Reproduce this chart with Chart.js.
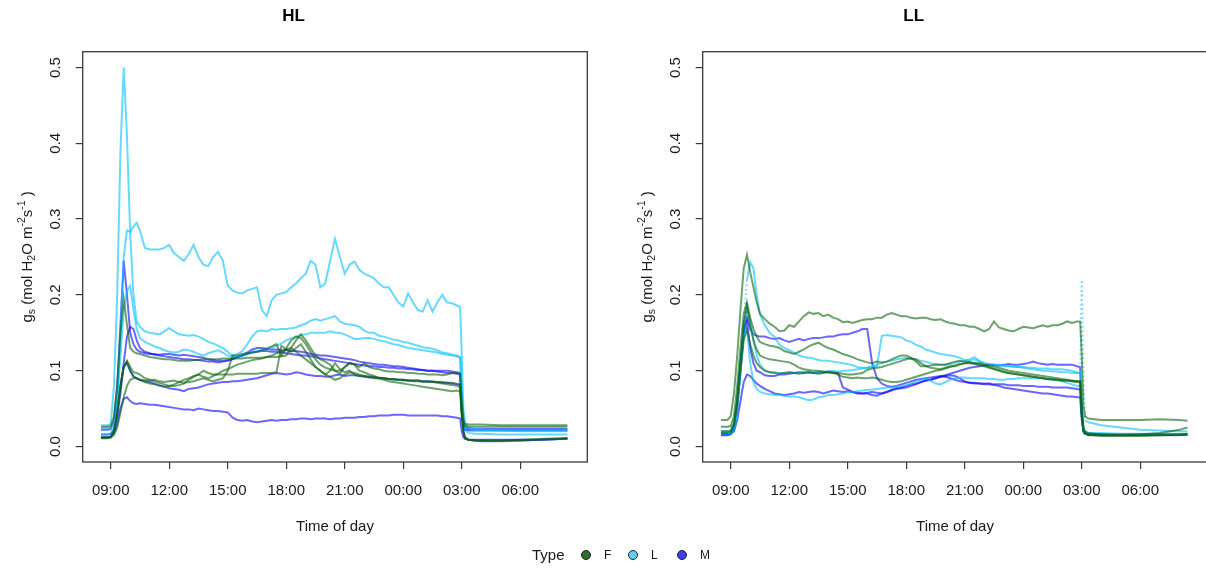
<!DOCTYPE html>
<html><head><meta charset="utf-8">
<script src="https://cdn.jsdelivr.net/npm/chart.js@4.4.1/dist/chart.umd.min.js"></script>
<style>
html,body{margin:0;padding:0;background:#fff;overflow:hidden;width:1206px;height:570px;position:relative;font-family:"Liberation Sans",Arial,sans-serif;}
canvas{position:absolute;top:0;}
#c1{left:0;}
#c2{left:620px;}
.lg{position:absolute;color:#1a1a1a;white-space:nowrap;line-height:1;}
.dot{position:absolute;width:8px;height:8px;border-radius:50%;border:1px solid #222;}
</style></head><body>
<canvas id="c1" width="600" height="570"></canvas>
<canvas id="c2" width="600" height="570"></canvas>
<div class="lg" style="left:532px;top:547px;font-size:15px;">Type</div>
<div class="dot" style="left:581px;top:550px;background:#2e6e2e;"></div>
<div class="lg" style="left:604px;top:549px;font-size:12px;">F</div>
<div class="dot" style="left:628px;top:550px;background:#5fd0f2;"></div>
<div class="lg" style="left:651px;top:549px;font-size:12px;">L</div>
<div class="dot" style="left:677px;top:550px;background:#3c3cf5;"></div>
<div class="lg" style="left:700px;top:549px;font-size:12px;">M</div>
<script>
// ---------- categories / ticks ----------
const times = [
 "08:30","08:50","09:00","09:10","09:20","09:30","09:40","09:50","10:00","10:10","10:20","10:30","10:45","11:00",
 "11:15","11:30","11:45",
 "12:00","12:15","12:30","12:45","13:00","13:15","13:30","13:45","14:00","14:15","14:30","14:45",
 "15:00","15:15","15:30","15:45","16:00","16:15","16:30","16:45","17:00","17:15","17:30","17:45",
 "18:00","18:15","18:30","18:45","19:00","19:15","19:30","19:45","20:00","20:15","20:30","20:45",
 "21:00","21:15","21:30","21:45","22:00","22:15","22:30","22:45","23:00","23:15","23:30","23:45",
 "00:00","00:15","00:30","00:45","01:00","01:15","01:30","01:45","02:00","02:15","02:30","02:45",
 "02:55","03:00","03:05","03:10","03:20","03:40","04:00","05:00","06:00","07:00","08:00","08:25"
];
const xTickValues = [9,12,15,18,21,24,27,30];
const xTickLabels = ["09:00","12:00","15:00","18:00","21:00","00:00","03:00","06:00"];
const yTickValues = [0,0.1,0.2,0.3,0.4,0.5];
const yTickLabels = ["0.0","0.1","0.2","0.3","0.4","0.5"];
const panelTitles = ["HL","LL"];
const legendTypes = ["F","L","M"];

// ---------- HL series ----------
const hlF1 = [0.026,0.026,0.027,0.04,0.08,0.15,0.195,0.16,0.13,0.125,0.123,0.122,0.12,0.118,
 0.117,0.116,0.115,
 0.115,0.114,0.113,0.113, 0.113,0.114,0.114,0.115, 0.115,0.115,0.115,0.116,
 0.116,0.116,0.116,0.116, 0.117,0.117,0.117,0.117, 0.118,0.118,0.118,0.119,
 0.12,0.13,0.14,0.148, 0.14,0.13,0.12,0.115, 0.112,0.108,0.1,0.096,
 0.105,0.11,0.108,0.105, 0.11,0.105,0.103,0.102, 0.1,0.099,0.099,0.098,
 0.098,0.097,0.097,0.096, 0.096,0.095,0.095,0.095, 0.094,0.095,0.097,0.097,
 0.096,0.06,0.035,0.03,0.029,0.029,0.029,0.028,0.028,0.028,0.028,0.028];
const hlF2 = [0.012,0.012,0.013,0.02,0.045,0.08,0.105,0.113,0.105,0.098,0.097,0.095,0.09,0.088,
 0.086,0.084,0.082,
 0.08,0.08,0.081,0.083, 0.088,0.092,0.095,0.1, 0.097,0.095,0.095,0.095,
 0.095,0.095,0.096,0.096, 0.096,0.096,0.096,0.097, 0.097,0.097,0.098,0.133,
 0.128,0.125,0.13,0.135, 0.125,0.115,0.105,0.1, 0.095,0.1,0.11,0.102,
 0.098,0.1,0.095,0.093, 0.093,0.092,0.09,0.09, 0.09,0.089,0.088,0.088,
 0.087,0.087,0.086,0.086, 0.085,0.085,0.085,0.084, 0.083,0.082,0.081,0.08,
 0.078,0.045,0.02,0.012,0.009,0.008,0.008,0.008,0.008,0.009,0.01,0.011];
const hlF3 = [0.012,0.012,0.012,0.015,0.025,0.045,0.065,0.08,0.088,0.09,0.09,0.088,0.087,0.087,
 0.088,0.086,0.085,
 0.086,0.087,0.085,0.084, 0.085,0.086,0.088,0.09, 0.088,0.086,0.088,0.09,
 0.1,0.12,0.12,0.122, 0.123,0.124,0.125,0.127, 0.129,0.132,0.135,0.12,
 0.13,0.14,0.145,0.143, 0.135,0.125,0.115,0.108, 0.104,0.102,0.1,0.1,
 0.105,0.11,0.108,0.1, 0.098,0.095,0.093,0.09, 0.088,0.086,0.085,0.084,
 0.083,0.082,0.081,0.08, 0.079,0.078,0.077,0.076, 0.075,0.074,0.073,0.074,
 0.072,0.04,0.03,0.027,0.026,0.026,0.026,0.026,0.026,0.026,0.026,0.026];
const hlF4 = [0.011,0.011,0.012,0.02,0.045,0.08,0.105,0.112,0.1,0.093,0.09,0.088,0.085,0.083,
 0.082,0.08,0.079,
 0.08,0.082,0.085,0.088, 0.09,0.093,0.095,0.092, 0.09,0.093,0.096,0.1,
 0.102,0.105,0.108,0.11, 0.112,0.114,0.115,0.116, 0.118,0.12,0.123,0.125,
 0.128,0.13,0.125,0.12, 0.115,0.11,0.105,0.1, 0.095,0.092,0.088,0.09,
 0.095,0.098,0.097,0.095, 0.093,0.092,0.092,0.091, 0.09,0.089,0.089,0.088,
 0.088,0.087,0.087,0.087, 0.086,0.086,0.086,0.085, 0.085,0.084,0.084,0.083,
 0.082,0.045,0.02,0.011,0.009,0.008,0.008,0.008,0.009,0.01,0.011,0.011];
const hlL1 = [0.028,0.028,0.03,0.08,0.2,0.39,0.5,0.41,0.28,0.2,0.165,0.158,0.152,0.15,
 0.149,0.148,0.152,
 0.156,0.152,0.148,0.147, 0.146,0.147,0.145,0.142, 0.138,0.136,0.133,0.13,
 0.125,0.12,0.122,0.126, 0.135,0.145,0.152,0.153, 0.152,0.155,0.154,0.155,
 0.155,0.156,0.157,0.16, 0.162,0.166,0.168,0.166, 0.168,0.17,0.172,0.165,
 0.162,0.161,0.16,0.158, 0.153,0.15,0.15,0.146, 0.145,0.143,0.141,0.14,
 0.138,0.137,0.135,0.133, 0.131,0.13,0.129,0.127, 0.124,0.123,0.121,0.119,
 0.117,0.07,0.04,0.028,0.024,0.022,0.022,0.021,0.02,0.02,0.02,0.02];
const hlL2 = [0.024,0.024,0.025,0.03,0.06,0.15,0.25,0.285,0.283,0.29,0.295,0.285,0.262,0.26,
 0.26,0.26,0.262,
 0.266,0.255,0.25,0.245, 0.254,0.266,0.25,0.24, 0.238,0.25,0.257,0.245,
 0.212,0.206,0.203,0.202, 0.206,0.208,0.21,0.18, 0.172,0.193,0.2,0.202,
 0.204,0.21,0.215,0.222, 0.228,0.245,0.24,0.21, 0.215,0.245,0.274,0.25,
 0.228,0.24,0.244,0.233, 0.228,0.225,0.222,0.215, 0.21,0.21,0.2,0.19,
 0.185,0.202,0.19,0.18, 0.178,0.193,0.178,0.19, 0.2,0.19,0.189,0.186,
 0.184,0.12,0.05,0.03,0.025,0.023,0.022,0.022,0.022,0.022,0.022,0.022];
const hlL3 = [0.016,0.016,0.017,0.025,0.06,0.12,0.18,0.205,0.212,0.18,0.155,0.143,0.138,0.135,
 0.132,0.13,0.127,
 0.125,0.124,0.125,0.128, 0.127,0.125,0.122,0.12, 0.123,0.125,0.127,0.124,
 0.12,0.119,0.118,0.12, 0.124,0.125,0.126,0.127, 0.128,0.13,0.133,0.136,
 0.14,0.143,0.145,0.147, 0.148,0.15,0.15,0.15, 0.15,0.152,0.15,0.15,
 0.148,0.145,0.142,0.142, 0.143,0.143,0.142,0.14, 0.139,0.137,0.135,0.134,
 0.132,0.13,0.129,0.128, 0.127,0.126,0.125,0.124, 0.122,0.121,0.12,0.12,
 0.118,0.07,0.035,0.022,0.018,0.017,0.017,0.016,0.016,0.016,0.016,0.016];
const hlM1 = [0.022,0.022,0.023,0.035,0.08,0.16,0.245,0.2,0.15,0.135,0.128,0.125,0.123,0.122,
 0.122,0.121,0.122,
 0.122,0.121,0.12,0.121, 0.12,0.119,0.118,0.117, 0.115,0.114,0.113,0.113,
 0.114,0.116,0.118,0.12, 0.124,0.128,0.13,0.13, 0.129,0.128,0.128,0.127,
 0.127,0.126,0.126,0.125, 0.124,0.122,0.121,0.12, 0.12,0.119,0.118,0.117,
 0.116,0.115,0.114,0.112, 0.111,0.11,0.109,0.108, 0.108,0.107,0.106,0.106,
 0.105,0.104,0.103,0.102, 0.101,0.1,0.1,0.099, 0.098,0.097,0.097,0.096,
 0.095,0.05,0.028,0.024,0.023,0.023,0.023,0.023,0.023,0.023,0.023,0.023];
const hlM2 = [0.016,0.016,0.017,0.022,0.04,0.07,0.11,0.145,0.158,0.155,0.14,0.13,0.125,0.123,
 0.121,0.12,0.119,
 0.118,0.117,0.116,0.115, 0.115,0.114,0.114,0.113, 0.112,0.112,0.111,0.112,
 0.113,0.115,0.118,0.12, 0.122,0.124,0.125,0.126, 0.126,0.125,0.125,0.124,
 0.123,0.122,0.121,0.12, 0.12,0.119,0.118,0.116, 0.115,0.114,0.113,0.112,
 0.111,0.11,0.109,0.108, 0.107,0.106,0.106,0.105, 0.105,0.104,0.104,0.103,
 0.103,0.102,0.102,0.101, 0.101,0.1,0.1,0.1, 0.1,0.1,0.099,0.098,
 0.097,0.05,0.02,0.012,0.009,0.008,0.007,0.007,0.008,0.009,0.01,0.011];
const hlM3 = [0.012,0.012,0.013,0.02,0.045,0.08,0.105,0.11,0.1,0.092,0.09,0.088,0.086,0.085,
 0.083,0.081,0.079,
 0.077,0.076,0.075,0.073, 0.076,0.077,0.078,0.08, 0.082,0.083,0.084,0.085,
 0.085,0.086,0.086,0.087, 0.088,0.089,0.09,0.092, 0.094,0.096,0.097,0.096,
 0.095,0.096,0.098,0.097, 0.095,0.094,0.093,0.093, 0.092,0.092,0.094,0.095,
 0.093,0.094,0.094,0.093, 0.092,0.091,0.091,0.09, 0.09,0.089,0.089,0.088,
 0.088,0.087,0.087,0.087, 0.086,0.086,0.085,0.085, 0.084,0.084,0.083,0.082,
 0.081,0.045,0.025,0.022,0.021,0.021,0.021,0.021,0.021,0.021,0.021,0.021];
const hlM4 = [0.012,0.012,0.013,0.018,0.03,0.05,0.063,0.065,0.06,0.057,0.056,0.057,0.056,0.055,
 0.055,0.054,0.053,
 0.052,0.051,0.05,0.049, 0.049,0.048,0.05,0.049, 0.048,0.047,0.047,0.046,
 0.045,0.038,0.035,0.034, 0.035,0.033,0.032,0.033, 0.034,0.035,0.034,0.035,
 0.035,0.036,0.036,0.037, 0.037,0.036,0.037,0.037, 0.037,0.036,0.037,0.037,
 0.038,0.038,0.038,0.039, 0.039,0.04,0.04,0.041, 0.041,0.041,0.042,0.042,
 0.042,0.041,0.041,0.041, 0.041,0.041,0.041,0.041, 0.04,0.04,0.039,0.038,
 0.037,0.02,0.012,0.01,0.009,0.009,0.009,0.009,0.009,0.009,0.01,0.01];

// ---------- LL series ----------
const llF1 = [0.035,0.035,0.04,0.07,0.12,0.18,0.235,0.253,0.23,0.21,0.19,0.175,0.168,0.162,
 0.158,0.152,0.153,
 0.16,0.158,0.165,0.172, 0.177,0.175,0.176,0.172, 0.174,0.17,0.168,0.164,
 0.165,0.163,0.165,0.167, 0.168,0.168,0.17,0.17, 0.174,0.176,0.174,0.172,
 0.172,0.17,0.169,0.17, 0.17,0.168,0.167,0.168, 0.165,0.163,0.162,0.16,
 0.16,0.158,0.158,0.155, 0.152,0.155,0.165,0.157, 0.155,0.153,0.152,0.155,
 0.158,0.157,0.156,0.158, 0.16,0.158,0.16,0.16, 0.162,0.165,0.163,0.165,
 0.165,0.12,0.055,0.04,0.037,0.036,0.035,0.035,0.035,0.036,0.035,0.034];
const llF2 = [0.026,0.026,0.027,0.04,0.08,0.13,0.175,0.19,0.17,0.155,0.145,0.138,0.135,0.133,
 0.132,0.13,0.126,
 0.124,0.122,0.125,0.128, 0.132,0.135,0.137,0.133, 0.13,0.128,0.125,0.122,
 0.12,0.118,0.115,0.113, 0.111,0.11,0.112,0.111, 0.112,0.115,0.118,0.12,
 0.12,0.117,0.112,0.106, 0.106,0.107,0.108,0.108, 0.108,0.11,0.112,0.113,
 0.112,0.111,0.11,0.11, 0.108,0.107,0.106,0.104, 0.102,0.1,0.099,0.098,
 0.097,0.096,0.095,0.094, 0.093,0.092,0.091,0.09, 0.089,0.088,0.087,0.086,
 0.086,0.05,0.025,0.02,0.018,0.017,0.016,0.015,0.016,0.018,0.022,0.025];
const llF3 = [0.02,0.02,0.021,0.03,0.06,0.11,0.16,0.185,0.16,0.14,0.128,0.12,0.117,0.115,
 0.114,0.113,0.112,
 0.111,0.108,0.104,0.102, 0.101,0.1,0.1,0.099, 0.098,0.097,0.097,0.096,
 0.095,0.095,0.096,0.097, 0.101,0.103,0.104,0.105, 0.107,0.109,0.111,0.113,
 0.115,0.116,0.115,0.11, 0.106,0.104,0.103,0.102, 0.104,0.106,0.106,0.108,
 0.11,0.11,0.109,0.107, 0.106,0.104,0.102,0.1, 0.098,0.097,0.096,0.095,
 0.094,0.093,0.092,0.091, 0.09,0.089,0.089,0.088, 0.087,0.087,0.086,0.085,
 0.085,0.045,0.022,0.018,0.016,0.015,0.015,0.015,0.015,0.015,0.016,0.017];
const llF4 = [0.018,0.018,0.019,0.028,0.055,0.1,0.14,0.155,0.135,0.12,0.11,0.105,0.1,0.098,
 0.097,0.096,0.097,
 0.098,0.097,0.096,0.097, 0.098,0.097,0.096,0.097, 0.098,0.097,0.095,0.092,
 0.091,0.09,0.091,0.09, 0.09,0.091,0.09,0.088, 0.086,0.085,0.085,0.086,
 0.088,0.09,0.092,0.094, 0.096,0.098,0.1,0.101, 0.103,0.105,0.107,0.109,
 0.11,0.111,0.11,0.109, 0.107,0.105,0.103,0.101, 0.099,0.097,0.096,0.095,
 0.094,0.093,0.092,0.091, 0.09,0.089,0.088,0.088, 0.087,0.087,0.086,0.086,
 0.086,0.04,0.02,0.017,0.015,0.015,0.014,0.014,0.014,0.015,0.015,0.016];
const llL1 = [0.018,0.018,0.018,0.02,0.04,0.09,0.16,0.22,0.243,0.235,0.2,0.175,0.16,0.15,
 0.145,0.134,0.13,
 0.127,0.124,0.12,0.118, 0.117,0.116,0.114,0.113, 0.113,0.112,0.111,0.11,
 0.109,0.107,0.105,0.104, 0.104,0.105,0.106,0.146, 0.147,0.146,0.145,0.144,
 0.14,0.138,0.134,0.132, 0.128,0.126,0.124,0.122, 0.121,0.12,0.119,0.117,
 0.114,0.113,0.115,0.112, 0.11,0.109,0.108,0.108, 0.107,0.106,0.106,0.105,
 0.104,0.103,0.102,0.101, 0.1,0.1,0.099,0.099, 0.098,0.098,0.097,0.097,
 0.097,0.22,0.09,0.035,0.032,0.03,0.028,0.025,0.022,0.021,0.02,0.02];
const llL2 = [0.02,0.02,0.021,0.03,0.06,0.11,0.16,0.185,0.165,0.14,0.12,0.108,0.1,0.098,
 0.098,0.097,0.097,
 0.098,0.097,0.098,0.099, 0.098,0.097,0.097,0.098, 0.099,0.1,0.099,0.1,
 0.1,0.101,0.102,0.103, 0.104,0.106,0.108,0.11, 0.112,0.113,0.115,0.116,
 0.117,0.116,0.115,0.113, 0.112,0.11,0.109,0.108, 0.108,0.109,0.11,0.112,
 0.113,0.115,0.118,0.113, 0.11,0.108,0.107,0.107, 0.106,0.106,0.105,0.105,
 0.105,0.104,0.104,0.103, 0.103,0.103,0.102,0.102, 0.102,0.101,0.1,0.098,
 0.097,0.05,0.025,0.02,0.018,0.018,0.018,0.017,0.017,0.017,0.017,0.017];
const llL3 = [0.016,0.016,0.017,0.025,0.05,0.1,0.145,0.155,0.11,0.085,0.076,0.072,0.07,0.069,
 0.068,0.068,0.067,
 0.066,0.066,0.065,0.063, 0.061,0.062,0.065,0.066, 0.068,0.068,0.069,0.07,
 0.072,0.072,0.073,0.074, 0.075,0.075,0.076,0.077, 0.078,0.078,0.079,0.08,
 0.081,0.083,0.086,0.088, 0.09,0.087,0.083,0.082, 0.085,0.088,0.09,0.091,
 0.091,0.09,0.09,0.09, 0.09,0.089,0.089,0.088, 0.088,0.089,0.089,0.09,
 0.09,0.09,0.09,0.09, 0.09,0.089,0.088,0.087, 0.086,0.084,0.082,0.08,
 0.08,0.04,0.02,0.017,0.016,0.016,0.016,0.016,0.016,0.016,0.016,0.016];
const llM1 = [0.016,0.016,0.017,0.025,0.06,0.11,0.155,0.17,0.155,0.148,0.146,0.145,0.145,0.143,
 0.142,0.143,0.14,
 0.138,0.14,0.142,0.14, 0.142,0.143,0.143,0.144, 0.145,0.145,0.147,0.148,
 0.148,0.15,0.152,0.155, 0.155,0.11,0.09,0.083, 0.08,0.079,0.08,0.082,
 0.084,0.086,0.088,0.089, 0.09,0.091,0.092,0.093, 0.092,0.09,0.088,0.086,
 0.085,0.084,0.084,0.083, 0.083,0.083,0.082,0.082, 0.082,0.081,0.081,0.081,
 0.08,0.08,0.08,0.079, 0.079,0.079,0.078,0.078, 0.078,0.078,0.077,0.076,
 0.075,0.04,0.02,0.017,0.016,0.016,0.016,0.016,0.016,0.016,0.016,0.016];
const llM2 = [0.015,0.015,0.016,0.022,0.05,0.1,0.15,0.165,0.13,0.11,0.1,0.098,0.094,0.093,
 0.093,0.095,0.095,
 0.096,0.097,0.098,0.097, 0.098,0.097,0.098,0.098, 0.099,0.098,0.097,0.078,
 0.075,0.072,0.07,0.07, 0.071,0.072,0.071,0.07, 0.072,0.074,0.076,0.077,
 0.078,0.08,0.082,0.085, 0.087,0.088,0.09,0.092, 0.093,0.094,0.093,0.09,
 0.086,0.084,0.083,0.083, 0.082,0.082,0.081,0.08, 0.078,0.077,0.076,0.075,
 0.074,0.073,0.072,0.071, 0.07,0.07,0.069,0.068, 0.067,0.066,0.066,0.065,
 0.065,0.035,0.02,0.017,0.016,0.016,0.016,0.016,0.016,0.016,0.016,0.016];
const llM3 = [0.016,0.016,0.017,0.02,0.035,0.06,0.085,0.095,0.093,0.088,0.083,0.08,0.076,0.073,
 0.07,0.069,0.068,
 0.069,0.07,0.072,0.071, 0.072,0.073,0.072,0.07, 0.072,0.074,0.073,0.072,
 0.073,0.072,0.071,0.07, 0.07,0.068,0.067,0.07, 0.072,0.075,0.077,0.078,
 0.08,0.082,0.083,0.085, 0.087,0.088,0.09,0.092, 0.094,0.096,0.098,0.1,
 0.102,0.104,0.105,0.106, 0.107,0.108,0.108,0.107, 0.108,0.109,0.108,0.108,
 0.109,0.11,0.112,0.11, 0.109,0.108,0.109,0.108, 0.108,0.108,0.108,0.106,
 0.105,0.05,0.022,0.018,0.016,0.016,0.016,0.016,0.016,0.016,0.016,0.016];

// ---------- build ----------
const T = times.map(s => { const [h, m] = s.split(':').map(Number); let t = h + m / 60; if (t < 8.45) t += 24; return t; });
const COLORS = { F: 'rgba(10,100,10,0.6)', L: 'rgba(0,191,255,0.6)', M: 'rgba(10,0,255,0.6)' };
const FONT = '"Liberation Sans", Arial, sans-serif';
const XMIN = 7.564, XMAX = 33.436, YMIN = -0.0204, YMAX = 0.5208;

const hlSeries = [
  {type:'F', v: hlF1}, {type:'F', v: hlF2}, {type:'F', v: hlF3}, {type:'F', v: hlF4},
  {type:'L', v: hlL1}, {type:'L', v: hlL2}, {type:'L', v: hlL3},
  {type:'M', v: hlM1}, {type:'M', v: hlM2}, {type:'M', v: hlM3}, {type:'M', v: hlM4}
];
const llSeries = [
  {type:'F', v: llF1}, {type:'F', v: llF2}, {type:'F', v: llF3}, {type:'F', v: llF4},
  {type:'L', v: llL1, dotted: true}, {type:'L', v: llL2}, {type:'L', v: llL3},
  {type:'M', v: llM1}, {type:'M', v: llM2}, {type:'M', v: llM3}
];
[...hlSeries, ...llSeries].forEach((s, i) => { if (s.v.length !== T.length) console.error('length mismatch', i, s.v.length); });

const framePlugin = {
  id: 'frame',
  afterDraw(chart) {
    const ctx = chart.ctx, a = chart.chartArea, ys = chart.scales.y;
    ctx.save();
    ctx.strokeStyle = '#3a3a3a'; ctx.lineWidth = 1.3;
    ctx.strokeRect(a.left, a.top, a.right - a.left, a.bottom - a.top);
    // rotated y tick labels
    ctx.fillStyle = '#1a1a1a';
    ctx.font = '15px ' + FONT;
    ctx.textAlign = 'center'; ctx.textBaseline = 'middle';
    yTickValues.forEach((v, i) => {
      const y = ys.getPixelForValue(v);
      ctx.save(); ctx.translate(a.left - 27, y); ctx.rotate(-Math.PI / 2);
      ctx.fillText(yTickLabels[i], 0, 0); ctx.restore();
    });
    // y axis title with sub/superscripts
    const parts = [['g',0],['s',1],[' (mol H',0],['2',1],['O m',0],['-2',-1],['s',0],['-1',-1],[' )',0]];
    const big = '15px ' + FONT, small = '10.5px ' + FONT;
    let total = 0;
    const w = parts.map(p => { ctx.font = p[1] ? small : big; const m = ctx.measureText(p[0]).width; total += m; return m; });
    ctx.save();
    ctx.translate(a.left - 55, (a.top + a.bottom) / 2); ctx.rotate(-Math.PI / 2);
    ctx.textAlign = 'left'; ctx.textBaseline = 'middle';
    let x = -total / 2;
    parts.forEach((p, i) => {
      ctx.font = p[1] ? small : big;
      const dy = p[1] === 1 ? 4 : (p[1] === -1 ? -6 : 0);
      ctx.fillText(p[0], x, dy); x += w[i];
    });
    ctx.restore();
    ctx.restore();
  }
};

function makeChart(id, title, series) {
  return new Chart(document.getElementById(id), {
    type: 'line',
    data: {
      datasets: series.map(s => ({
        data: s.v.map((v, i) => ({ x: T[i], y: v })),
        borderColor: COLORS[s.type],
        borderWidth: 2,
        pointRadius: 0,
        tension: 0,
        fill: false,
        segment: s.dotted ? {
          borderDash: c => Math.abs((c.p1.parsed.y - c.p0.parsed.y) / (c.p1.parsed.x - c.p0.parsed.x)) > 0.3 ? [1.5, 3] : undefined
        } : undefined
      }))
    },
    options: {
      responsive: false,
      animation: false,
      layout: { padding: { left: 0, right: 12.7, top: 0, bottom: 0 } },
      plugins: {
        legend: { display: false },
        tooltip: { enabled: false },
        title: { display: true, text: title, color: '#000', font: { family: FONT, size: 17, weight: 'bold' }, padding: { top: 6.1, bottom: 25.2 } }
      },
      scales: {
        x: {
          type: 'linear', min: XMIN, max: XMAX,
          afterBuildTicks: sc => { sc.ticks = xTickValues.map(v => ({ value: v })); },
          afterFit: sc => { sc.height = 108; },
          ticks: { callback: (v, i) => xTickLabels[i], color: '#1a1a1a', font: { family: FONT, size: 15 }, padding: 13, maxRotation: 0, autoSkip: false },
          grid: { display: true, drawOnChartArea: false, drawTicks: true, tickLength: 7, color: '#3a3a3a', lineWidth: 1.2 },
          border: { display: false },
          title: { display: true, text: 'Time of day', color: '#1a1a1a', font: { family: FONT, size: 15 }, padding: { top: 0, bottom: 34 } }
        },
        y: {
          type: 'linear', min: YMIN, max: YMAX,
          afterBuildTicks: sc => { sc.ticks = yTickValues.map(v => ({ value: v })); },
          afterFit: sc => { sc.width = 82.7; },
          ticks: { display: false },
          grid: { display: true, drawOnChartArea: false, drawTicks: true, tickLength: 7, color: '#3a3a3a', lineWidth: 1.2 },
          border: { display: false }
        }
      }
    },
    plugins: [framePlugin]
  });
}
makeChart('c1', panelTitles[0], hlSeries);
makeChart('c2', panelTitles[1], llSeries);
</script>
</body></html>
